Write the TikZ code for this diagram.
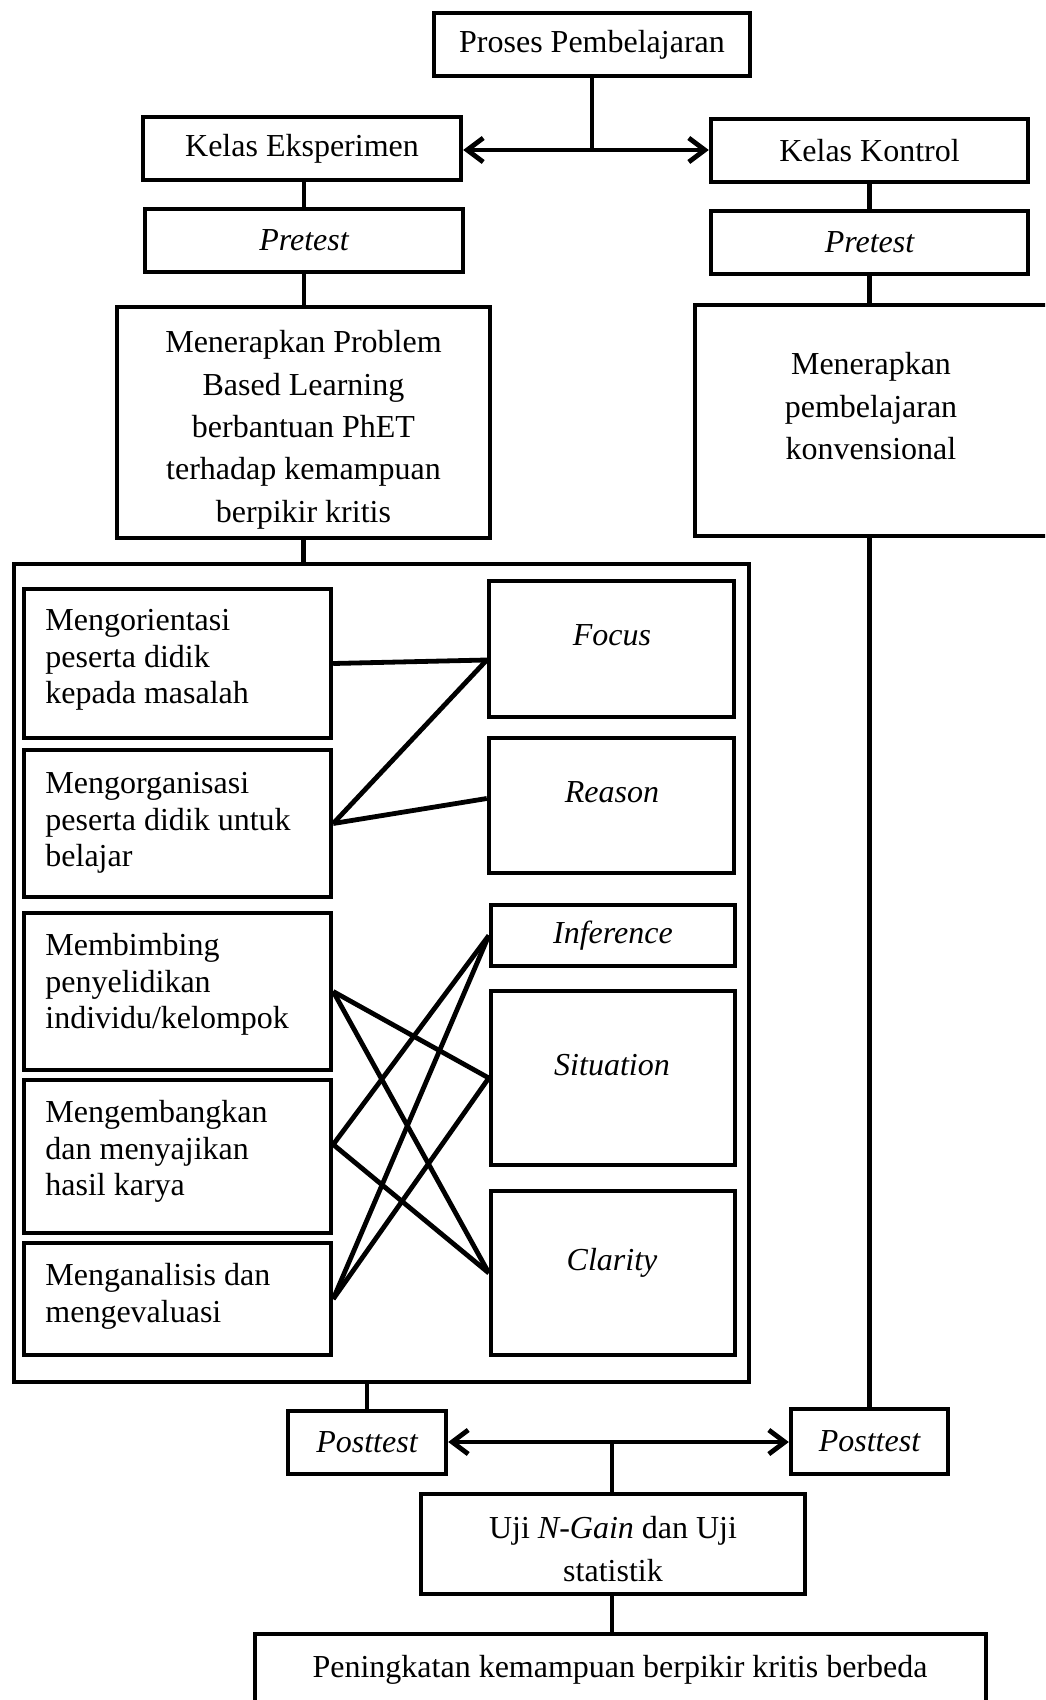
\documentclass[tikz,border=0pt]{standalone}
\usepackage{fontspec}
\setmainfont{Liberation Serif}
\usetikzlibrary{arrows.meta,calc}
\newcommand\fsA{\fontsize{16pt}{21.2pt}\selectfont}
\newcommand\fsB{\fontsize{16pt}{18.3pt}\selectfont}
\begin{document}
\begin{tikzpicture}[x=0.5pt,y=-0.5pt,
  box/.style={draw,line width=2.2pt,inner sep=0pt,align=center,font=\fsA},
  ltext/.style={anchor=north west,inner sep=0pt,align=left,font=\fsB},
  rtext/.style={anchor=base,inner sep=0pt,font=\fsA\itshape},
  conn/.style={line width=2.4pt},
  dbl/.style={line width=2.4pt,{Straight Barb[length=8pt,width=12pt]}-{Straight Barb[length=8pt,width=12pt]}}]
\useasboundingbox (0,0) rectangle (1045,1700);
\clip (0,0) rectangle (1045,1700);
% top
\node[box,minimum width=158pt,minimum height=31.5pt] (proses) at (592,44.5) {\raisebox{-1.5pt}{Proses Pembelajaran}};
\node[box,minimum width=159pt,minimum height=31.5pt] (ke) at (302,148.5) {\raisebox{-1.5pt}{Kelas Eksperimen}};
\node[box,minimum width=158.5pt,minimum height=31.5pt] (kk) at (869.5,150.5) {Kelas Kontrol};
\node[box,minimum width=159pt,minimum height=31.5pt,font=\fsA\itshape] (preL) at (304,240.5) {Pretest};
\node[box,minimum width=158.5pt,minimum height=31.5pt,font=\fsA\itshape] (preR) at (869.5,242.5) {Pretest};
\node[box,minimum width=186.5pt,minimum height=115.5pt] (pbl) at (303.5,422.5) {};
\node[anchor=north,inner sep=0pt,align=center,font=\fsA] (pbltext) at (303.5,330) {Menerapkan Problem\\Based Learning\\berbantuan PhET\\terhadap kemampuan\\berpikir kritis};
\node[box,minimum width=185pt,minimum height=115.5pt] (konv) at (880,420.5) {};
\node[anchor=north,inner sep=0pt,align=center,font=\fsA] (konvtext) at (871,352) {Menerapkan\\pembelajaran\\konvensional};
% container
\node[box,minimum width=367.5pt,minimum height=409pt] (cont) at (381.5,973) {};
% left boxes
\node[box,minimum width=153.5pt,minimum height=74.5pt] (l1) at (177.5,663.5) {};
\node[box,minimum width=153.5pt,minimum height=73.5pt] (l2) at (177.5,823.5) {};
\node[box,minimum width=153.5pt,minimum height=78.5pt] (l3) at (177.5,991.5) {};
\node[box,minimum width=153.5pt,minimum height=76.5pt] (l4) at (177.5,1156.5) {};
\node[box,minimum width=153.5pt,minimum height=56pt] (l5) at (177.5,1299) {};
\node[ltext] (l1t) at (45,609) {Mengorientasi\\peserta didik\\kepada masalah};
\node[ltext] (l2t) at (45,772) {Mengorganisasi\\peserta didik untuk\\belajar};
\node[ltext] (l3t) at (45,933) {Membimbing\\penyelidikan\\individu/kelompok};
\node[ltext] (l4t) at (45,1100) {Mengembangkan\\dan menyajikan\\hasil karya};
\node[ltext] (l5t) at (45,1263) {Menganalisis dan\\mengevaluasi};
% right boxes
\node[box,minimum width=122.5pt,minimum height=68pt] (focus) at (611.5,649) {};
\node[box,minimum width=122.5pt,minimum height=67.5pt] (reason) at (611.5,805.5) {};
\node[box,minimum width=122pt,minimum height=30.5pt,font=\fsA\itshape] (infer) at (613,935.5) {\raisebox{-1.5pt}{Inference}};
\node[box,minimum width=122pt,minimum height=87pt] (situ) at (613,1078) {};
\node[box,minimum width=122pt,minimum height=82pt] (clar) at (613,1273) {};
\node[rtext] (focust) at (612,645) {Focus};
\node[rtext] (reasont) at (612,802) {Reason};
\node[rtext] (situt) at (612,1075) {Situation};
\node[rtext] (clart) at (612,1270) {Clarity};
% bottom
\node[box,minimum width=79pt,minimum height=31.5pt,font=\fsA\itshape] (postL) at (367,1442.5) {Posttest};
\node[box,minimum width=78.5pt,minimum height=32.5pt,font=\fsA\itshape] (postR) at (869.5,1441.5) {Posttest};
\node[box,minimum width=192pt,minimum height=50pt] (uji) at (613,1544) {};
\node[anchor=north,inner sep=0pt,align=center,font=\fsA] (ujitext) at (613,1516) {Uji \textit{N-Gain} dan Uji\\statistik};
\node[box,minimum width=365.5pt,minimum height=46pt] (pen) at (620.5,1680) {};
\node[rtext,font=\fsA] (pent) at (620,1677) {Peningkatan kemampuan berpikir kritis berbeda};
% connectors
\coordinate (j1) at (592,150);
\draw[conn] (proses.south) -- (j1);
\draw[dbl] (ke.east |- j1) -- (kk.west |- j1);
\draw[conn] (preL.north |- ke.south) -- (preL.north);
\draw[conn] (preL.south) -- (pbl.north -| preL.south);
\draw[conn] (kk.south) -- (preR.north);
\draw[conn] (preR.south) -- (preR.south |- konv.north);
\draw[conn] (pbl.south) -- (pbl.south |- cont.north);
\draw[conn] (postR.north |- konv.south) -- (postR.north);
\draw[conn] (postL.north |- cont.south) -- (postL.north);
\coordinate (j2) at (612,1442);
\draw[dbl] (postL.east |- j2) -- (postR.west |- j2);
\draw[conn] (j2) -- (uji.north -| j2);
\draw[conn] (uji.south -| j2) -- (pen.north -| j2);
% cross links
\coordinate (fA) at ($(focus.west)+(0,11)$);
\coordinate (rA) at ($(reason.west)+(0,-7)$);
\coordinate (l4A) at ($(l4.east)+(0,-12)$);
\draw[conn] (l1.east) -- (fA);
\draw[conn] (l2.east) -- (fA);
\draw[conn] (l2.east) -- (rA);
\draw[conn] (l3.east) -- (situ.west);
\draw[conn] (l3.east) -- (clar.west);
\draw[conn] (l4A) -- (infer.west);
\draw[conn] (l4A) -- (clar.west);
\draw[conn] (l5.east) -- (infer.west);
\draw[conn] (l5.east) -- (situ.west);
\end{tikzpicture}
\end{document}
